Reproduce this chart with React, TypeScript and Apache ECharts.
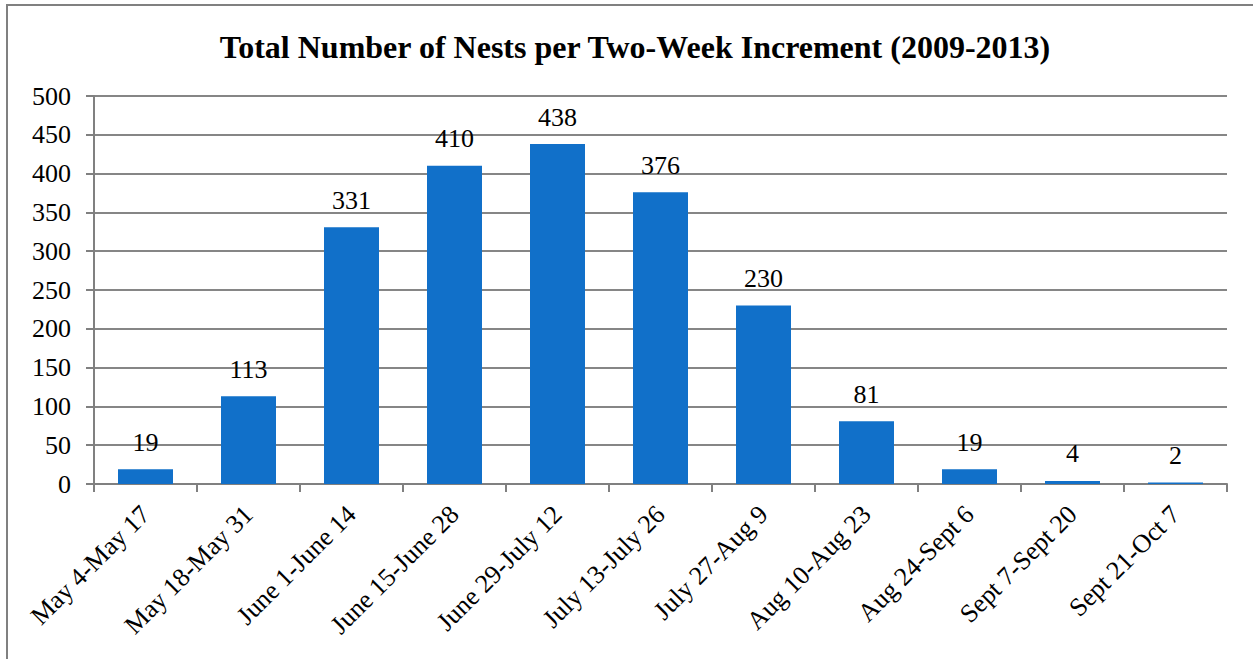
import React, { useEffect, useRef } from "react";
import * as echarts from "echarts";

const categories = [
  "May 4-May 17",
  "May 18-May 31",
  "June 1-June 14",
  "June 15-June 28",
  "June 29-July 12",
  "July 13-July 26",
  "July 27-Aug 9",
  "Aug 10-Aug 23",
  "Aug 24-Sept 6",
  "Sept 7-Sept 20",
  "Sept 21-Oct 7",
];
const nests = [19, 113, 331, 410, 438, 376, 230, 81, 19, 4, 2];
const titleText = "Total Number of Nests per Two-Week Increment (2009-2013)";

const FONT = "Liberation Serif";

export default function App() {
  const ref = useRef<HTMLDivElement>(null);
  useEffect(() => {
    if (!ref.current) return;
    const chart = echarts.init(ref.current, null, { renderer: "svg" });
    chart.setOption({
      animation: false,
      backgroundColor: "#ffffff",
      textStyle: { fontFamily: FONT },
      title: {
        text: titleText,
        left: 630,
        textAlign: "center",
        top: 26,
        textStyle: { fontFamily: FONT, fontSize: 32, fontWeight: "bold", color: "#000" },
      },
      graphic: [
        {
          type: "rect",
          shape: { x: 7, y: 5, width: 1400, height: 800 },
          style: { fill: "none", stroke: "#808080", lineWidth: 2 },
          silent: true,
        },
      ],
      grid: { left: 94, top: 96, right: 26, bottom: 175, containLabel: false },
      xAxis: {
        type: "category",
        data: categories,
        axisLine: { lineStyle: { color: "#808080", width: 2 } },
        axisTick: { show: true, length: 8, lineStyle: { color: "#808080", width: 2 } },
        axisLabel: {
          rotate: 45,
          interval: 0,
          margin: 26,
          fontFamily: FONT,
          fontSize: 26,
          color: "#000",
        },
      },
      yAxis: {
        type: "value",
        min: 0,
        max: 500,
        interval: 50,
        axisLine: { show: true, lineStyle: { color: "#808080", width: 2 } },
        axisTick: { show: true, length: 8, lineStyle: { color: "#808080", width: 2 } },
        splitLine: { lineStyle: { color: "#868686", width: 2 } },
        axisLabel: { margin: 23, fontFamily: FONT, fontSize: 26, color: "#000" },
      },
      series: [
        {
          type: "bar",
          data: nests,
          barWidth: 55,
          itemStyle: { color: "#1170c9" },
          label: {
            show: true,
            position: "top",
            distance: 14,
            fontFamily: FONT,
            fontSize: 26,
            color: "#000",
          },
        },
      ],
    });
    return () => chart.dispose();
  }, []);
  return (
    <div
      ref={ref}
      style={{ position: "fixed", left: 0, top: 0, width: 1253, height: 659 }}
    />
  );
}
